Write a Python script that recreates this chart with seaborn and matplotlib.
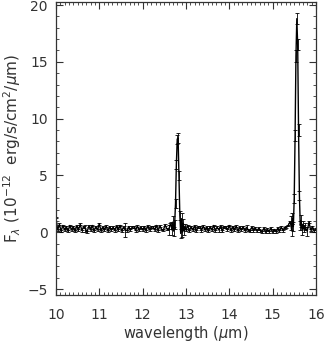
import numpy as np
import pandas as pd
import matplotlib
matplotlib.use("Agg")
import matplotlib.pyplot as plt
from matplotlib.ticker import MultipleLocator
import seaborn as sns

# ---- data ----
# baseline segment A: 10.00 .. 12.64 um, step 0.04
flux_a = [1.3, 0.2, 0.7, 0.1, 0.6, 0.2, 0.5, 0.1, 0.6, 0.2,
          0.5, 0.1, 0.55, 0.2, 0.7, 0.15, 0.5, 0.3, 0.05, 0.55,
          0.2, 0.6, 0.1, 0.5, 0.2, 0.75, 0.15, 0.45, 0.2, 0.55,
          0.1, 0.5, 0.2, 0.45, 0.15, 0.55, 0.2, 0.6, 0.1, 0.45,
          0.2, 0.15, 0.5, 0.2, 0.45, 0.5, 0.15, 0.55, 0.2, 0.45,
          0.2, 0.5, 0.15, 0.55, 0.2, 0.45, 0.5, 0.2, 0.6, 0.15,
          0.55, 0.25, 0.2, 0.65, 0.3, 0.2, 0.7]
# [Ne II] region: 12.66 .. 12.98 um, step 0.02
flux_l1 = [0.6, 0.2, 0.9, 0.1, 0.7, 2.5, 6.0, 8.2, 8.3, 5.0,
           1.5, -0.1, 1.2, 0.0, 0.8, 0.1, 0.5]
err_l1 = [0.3, 0.4, 0.5, 0.4, 0.4, 0.4, 0.4, 0.4, 0.4, 0.4,
          0.4, 0.4, 0.5, 0.4, 0.4, 0.3, 0.2]
# baseline segment B: 13.00 .. 15.40 um, step 0.04
flux_b = [0.2, 0.6, 0.1, 0.5, 0.2, 0.55, 0.1, 0.45, 0.5, 0.15,
          0.55, 0.2, 0.45, 0.1, 0.5, 0.2, 0.6, 0.15, 0.45, 0.2,
          0.55, 0.1, 0.5, 0.45, 0.2, 0.6, 0.15, 0.5, 0.2, 0.55,
          0.1, 0.45, 0.2, 0.5, 0.15, 0.45, 0.2, 0.1, 0.45, 0.15,
          0.4, 0.1, 0.35, 0.15, 0.05, 0.35, 0.0, 0.3, 0.05, 0.35,
          0.0, 0.25, 0.05, 0.35, 0.1, 0.45, 0.15, 0.4, 0.5, 0.6,
          0.9]
# [Ne III] region: 15.42 .. 15.74 um, step 0.02
flux_l2 = [0.8, 0.2, 1.2, 0.5, 3.0, 8.5, 15.5, 18.8, 16.5, 9.0,
           3.2, 0.6, 1.0, 0.2, 0.7, 0.3, 0.5]
err_l2 = [0.6, 0.5, 0.5, 0.4, 0.4, 0.5, 0.5, 0.5, 0.5, 0.5,
          0.4, 0.4, 0.5, 0.4, 0.3, 0.3, 0.3]
# baseline segment C: 15.76 .. 16.00 um, step 0.04
flux_c = [0.4, 0.1, 0.9, 0.2, 0.5, 0.15, 0.3]

base_err = 0.08
big_err_wl = [10.68, 11.60, 12.60, 13.76, 14.40, 15.80]
big_err_val = [0.3, 0.6, 0.4, 0.2, 0.2, 0.4]

# ---- assemble ----
wl_a = np.round(10.00 + 0.04 * np.arange(len(flux_a)), 2)
wl_l1 = np.round(12.66 + 0.02 * np.arange(len(flux_l1)), 2)
wl_b = np.round(13.00 + 0.04 * np.arange(len(flux_b)), 2)
wl_l2 = np.round(15.42 + 0.02 * np.arange(len(flux_l2)), 2)
wl_c = np.round(15.76 + 0.04 * np.arange(len(flux_c)), 2)

wl = np.concatenate([wl_a, wl_l1, wl_b, wl_l2, wl_c])
flux = np.concatenate([flux_a, flux_l1, flux_b, flux_l2, flux_c])
err = np.concatenate([np.full(len(flux_a), base_err), err_l1,
                      np.full(len(flux_b), base_err), err_l2,
                      np.full(len(flux_c), base_err)])
for w, e in zip(big_err_wl, big_err_val):
    i = int(np.argmin(np.abs(wl - w)))
    err[i] = e

df = pd.DataFrame({"wavelength": wl, "flux": flux, "err": err})

# ---- plot ----
sns.set_style("ticks")
plt.rcParams["font.family"] = ["DejaVu Sans"]
plt.rcParams["mathtext.fontset"] = "dejavusans"

fig = plt.figure(figsize=(3.27, 3.44), dpi=100)
ax = fig.add_axes([0.171, 0.142, 0.795, 0.852])

ax.errorbar(df["wavelength"], df["flux"], yerr=df["err"], fmt="none",
            ecolor="black", elinewidth=0.6, capsize=1.6, capthick=0.6)
sns.lineplot(data=df, x="wavelength", y="flux", color="black",
             linewidth=1.0, ax=ax, estimator=None, sort=True)

ax.set_xlim(10, 16)
ax.set_ylim(-5.53, 20.26)
ax.xaxis.set_major_locator(MultipleLocator(1))
ax.xaxis.set_minor_locator(MultipleLocator(0.1))
ax.yaxis.set_major_locator(MultipleLocator(5))
ax.yaxis.set_minor_locator(MultipleLocator(1))
ax.tick_params(which="both", direction="in", top=True, right=True,
               color="#333333", labelsize=10, labelcolor="#333333")
ax.tick_params(which="major", length=5, width=0.8)
ax.tick_params(which="minor", length=2.5, width=0.6)
ax.tick_params(axis="x", which="major", pad=9)
ax.tick_params(axis="y", which="major", pad=6)
for s in ax.spines.values():
    s.set_linewidth(0.9)
    s.set_color("#333333")

ax.set_xlabel(r"wavelength ($\mu$m)", fontsize=10.5, color="#333333", labelpad=2)
ax.set_ylabel(r"F$_\lambda$ (10$^{-12}$  erg/s/cm$^2$/$\mu$m)", fontsize=11,
              color="#333333", labelpad=3)

fig.savefig("out.png", dpi=100)
